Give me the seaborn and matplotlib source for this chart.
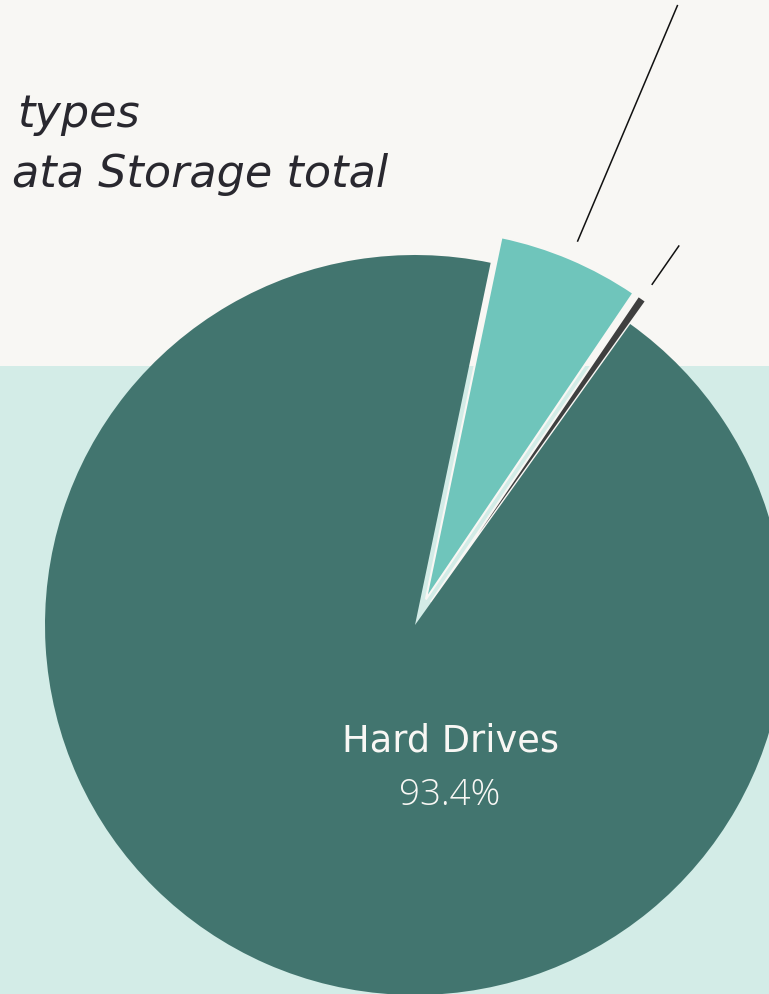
import matplotlib
matplotlib.use("Agg")
import matplotlib.pyplot as plt
import seaborn as sns
import numpy as np

# Storage media shares (% of total data storage)
media = ["Solid State", "Tape", "Hard Drives"]
shares = [6.2, 0.4, 93.4]
explode_frac = [0.075, 0.075, 0.0]
palette = sns.color_palette(["#6fc5bb", "#3f3f3f", "#42756f"])

title_lines = ["types", "ata Storage total"]
label_name = "Hard Drives"
label_value = "93.4%"

sns.set_theme(style="white")
plt.rcParams["font.family"] = ["DejaVu Sans"]

W, H = 769, 994
fig = plt.figure(figsize=(W / 100, H / 100), dpi=100)
fig.patch.set_facecolor("#f8f7f4")
ax = fig.add_axes([0, 0, 1, 1])
ax.set_facecolor("#f8f7f4")

# two-tone background bands
ax.axhspan(0, H - 366, color="#d3ece7", zorder=0, lw=0)

cx, cy, R = 415, H - 625, 370
wedges, _ = ax.pie(
    shares,
    explode=[e * R for e in explode_frac],
    colors=palette,
    startangle=78.2,
    counterclock=False,
    radius=R,
    center=(cx, cy),
    frame=True,
    wedgeprops=dict(linewidth=0),
)
for w in wedges:
    w.set_zorder(2)
for w in wedges[:2]:
    w.set_edgecolor("#f8f7f4")
    w.set_linewidth(1.5)

# radial leader lines for the two small slices
for w, (r0, r1) in zip(wedges[:2], [(1.125, 1.82), (1.12, 1.25)]):
    ang = np.deg2rad((w.theta1 + w.theta2) / 2)
    xs = [cx + r0 * R * np.cos(ang), cx + r1 * R * np.cos(ang)]
    ys = [cy + r0 * R * np.sin(ang), cy + r1 * R * np.sin(ang)]
    ax.plot(xs, ys, color="#111111", lw=1.1, zorder=3, solid_capstyle="butt")

# title (right-aligned fragments)
ax.text(140, H - 127, title_lines[0], ha="right", va="baseline",
        fontsize=32, style="oblique", color="#29282f")
ax.text(388, H - 187, title_lines[1], ha="right", va="baseline",
        fontsize=32, style="oblique", color="#29282f")

# in-slice label
ax.text(450, H - 752, label_name, ha="center", va="baseline",
        fontsize=26.5, color="#f8f7f4", zorder=4)
ax.text(450, H - 805, label_value, ha="center", va="baseline",
        fontsize=26.5, weight="light", family=["Open Sans", "DejaVu Sans"],
        color="#f8f7f4", zorder=4)

ax.set_xlim(0, W)
ax.set_ylim(0, H)
ax.set_aspect("auto")
ax.axis("off")

fig.savefig("out.png", dpi=100, facecolor=fig.get_facecolor())
